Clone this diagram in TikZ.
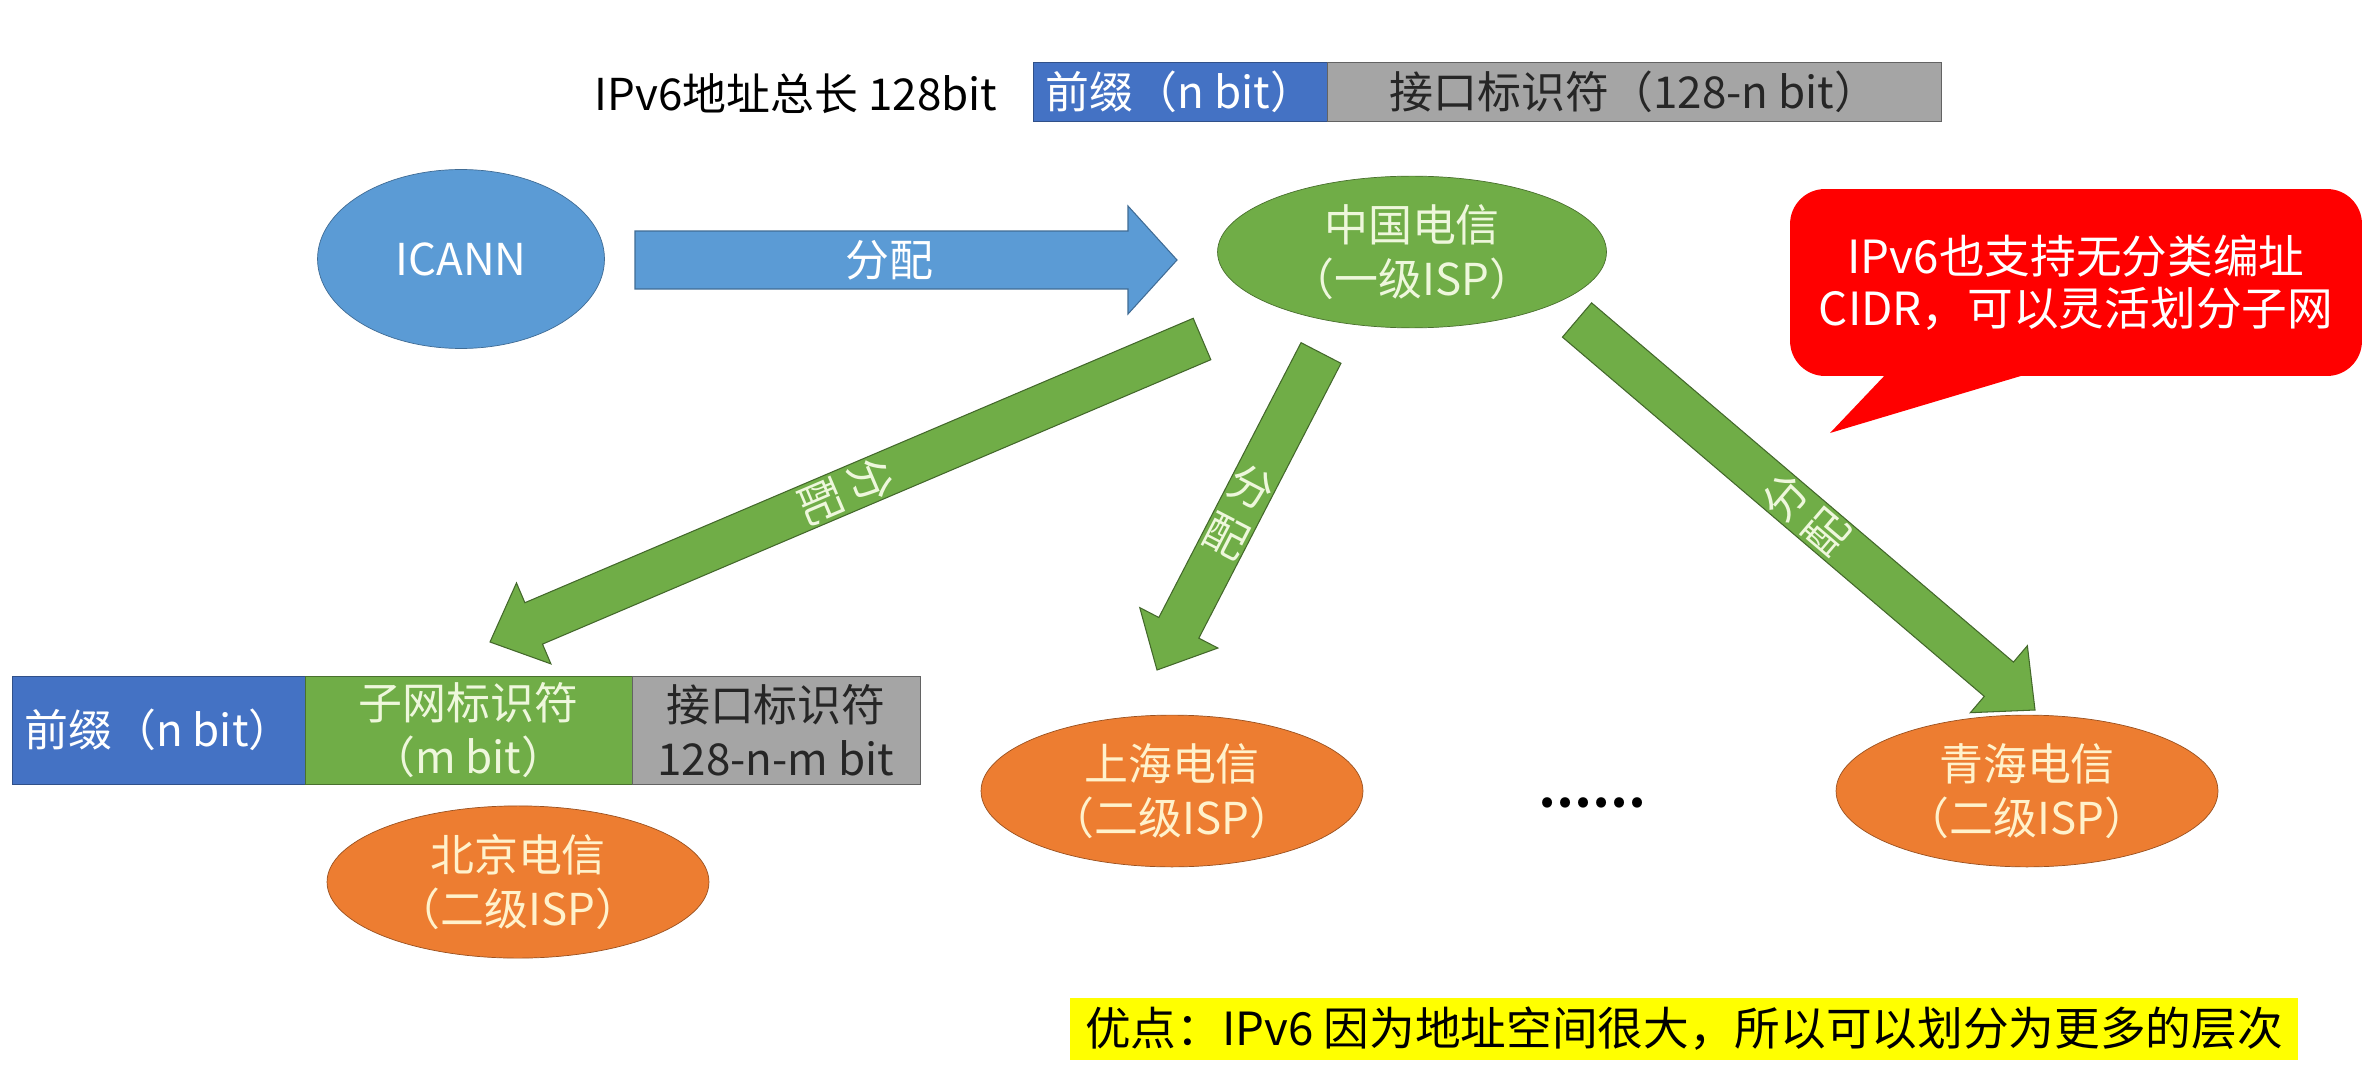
\documentclass[tikz,border=0pt]{standalone}
\usepackage{fontspec}
\setmainfont{Noto Sans CJK SC}
\usepackage{tikz}
\usetikzlibrary{
arrows.meta,
positioning,
shapes.geometric,
calc
}
\definecolor{ipblue}{HTML}{4472C4}
\definecolor{ipgray}{HTML}{A5A5A5}
\definecolor{ipgreen}{HTML}{70AD47}
\definecolor{iporange}{HTML}{ED7D31}
\definecolor{iplight}{HTML}{5B9BD5}
\definecolor{ipred}{HTML}{FF0000}
\definecolor{ipyellow}{HTML}{FFFF00}
\definecolor{palegreen}{HTML}{EEF7DC}
\definecolor{paleorange}{HTML}{FFF2CC}

% block arrow: tail, tip, half shaft, half head, head length, style
\newcommand{\blockarrow}[6]{%
  \coordinate (#1-base) at ($(#2)!#5!(#1)$);
  \draw[#6] ($(#1)!#3!90:(#2)$) -- ($(#1-base)!#3!90:(#2)$) -- ($(#1-base)!#4!90:(#2)$)
    -- (#2) -- ($(#1-base)!#4!-90:(#2)$) -- ($(#1-base)!#3!-90:(#2)$) -- ($(#1)!#3!-90:(#2)$) -- cycle;
}

\begin{document}
\begin{tikzpicture}[
  x=0.02cm, y=-0.02cm,
  txt/.style={font=\fontsize{25}{31}\selectfont},
  field/.style={txt, draw, minimum height=1.18cm, inner sep=0pt, outer sep=0pt},
  lvl1/.style={ellipse, txt, draw=ipgreen!65!black, fill=ipgreen, text=palegreen, align=center, minimum width=7.78cm, minimum height=3cm},
  lvl2/.style={ellipse, txt, draw=iporange!65!black, fill=iporange, text=paleorange, align=center, minimum width=7.64cm, minimum height=3cm},
  greenarrow/.style={draw=ipgreen!60!black, fill=ipgreen, line width=0.6pt},
  glabel/.style={txt, text=palegreen, align=center, inner sep=0pt}
]
  \fill[white] (0,0) rectangle (2372,1074);
  \useasboundingbox (0,0) rectangle (2372,1074);

  % 128 bit address on top
  \node[txt] (total) at (796,94) {IPv6地址总长 128bit};
  \node[field, fill=ipblue, draw=ipblue!70!black, text=white, minimum width=5.88cm] (pre) at (1180,91.5) {前缀（n bit）};
  \node[field, fill=ipgray, draw=ipgray!60!black, text=black!85, minimum width=12.28cm, right=0pt of pre] (ifid) {接口标识符（128-n bit）};

  % ICANN -> first level ISP
  \node[ellipse, txt, draw=iplight!70!black, fill=iplight, text=white, minimum width=5.74cm, minimum height=3.58cm] (icann) at (461,259) {ICANN};
  \node[lvl1] (cn) at (1412,252) {中国电信\\（一级ISP）};

  \coordinate (top-tail) at (635,260);
  \coordinate (top-tip) at (1177,260);
  \blockarrow{top-tail}{top-tip}{0.58cm}{1.08cm}{0.98cm}{draw=iplight!70!black, fill=iplight, line width=0.6pt}
  \node[txt, text=white] (top-label) at ($(top-tail)!0.47!(top-tip)$) {分配};

  % second level ISPs
  \node[lvl2] (bj) at (518,882) {北京电信\\（二级ISP）};
  \node[lvl2] (sh) at (1172,791) {上海电信\\（二级ISP）};
  \node[txt, font=\fontsize{27}{31}\selectfont\bfseries] (dots) at (1592,803) {……};
  \node[lvl2] (qh) at (2027,791) {青海电信\\（二级ISP）};

  % allocation arrows
  \coordinate (bj-tail) at (1202,339);
  \coordinate (bj-tip) at (490,642);
  \coordinate (sh-tail) at (1321,353);
  \coordinate (sh-tip) at (1157,670);
  \coordinate (qh-tail) at (1577,320);
  \coordinate (qh-tip) at (2035,710);
  \foreach \isp in {bj, sh, qh} {
    \blockarrow{\isp-tail}{\isp-tip}{0.45cm}{0.88cm}{0.95cm}{greenarrow}
    \path (\isp-tail) -- (\isp-tip) node[midway, sloped, allow upside down, rotate=90, glabel] (\isp-label) {分\\配};
  }

  % address with subnet id
  \node[field, fill=ipblue, draw=ipblue!70!black, text=white, minimum width=5.86cm, minimum height=2.16cm] (bj-pre) at (158.5,730) {前缀（n bit）};
  \node[field, fill=ipgreen, draw=ipgreen!65!black, text=palegreen, align=center, minimum width=6.54cm, minimum height=2.16cm, right=0pt of bj-pre] (bj-sub) {子网标识符\\（m bit）};
  \node[field, fill=ipgray, draw=ipgray!60!black, text=black!85, align=center, minimum width=5.76cm, minimum height=2.16cm, right=0pt of bj-sub] (bj-ifid) {接口标识符\\128-n-m bit};

  % callout
  \node[txt, font=\fontsize{26}{30}\selectfont, rounded corners=0.7cm, fill=ipred, text=white, align=center, minimum width=11.44cm, minimum height=3.74cm] (note) at (2076,282.5) {IPv6也支持无分类编址\\CIDR，可以灵活划分子网};
  \coordinate (note-ptr) at (1830,433);
  \fill[ipred] ($(note.south west)+(97,-3)$) -- (note-ptr) -- ($(note.south west)+(240,-3)$) -- cycle;

  % merit
  \node[font=\fontsize{26}{30}\selectfont, fill=ipyellow, inner sep=0pt, minimum width=24.56cm, minimum height=1.24cm] (merit) at (1684,1029) {优点：IPv6 因为地址空间很大，所以可以划分为更多的层次};

\end{tikzpicture}
\end{document}
